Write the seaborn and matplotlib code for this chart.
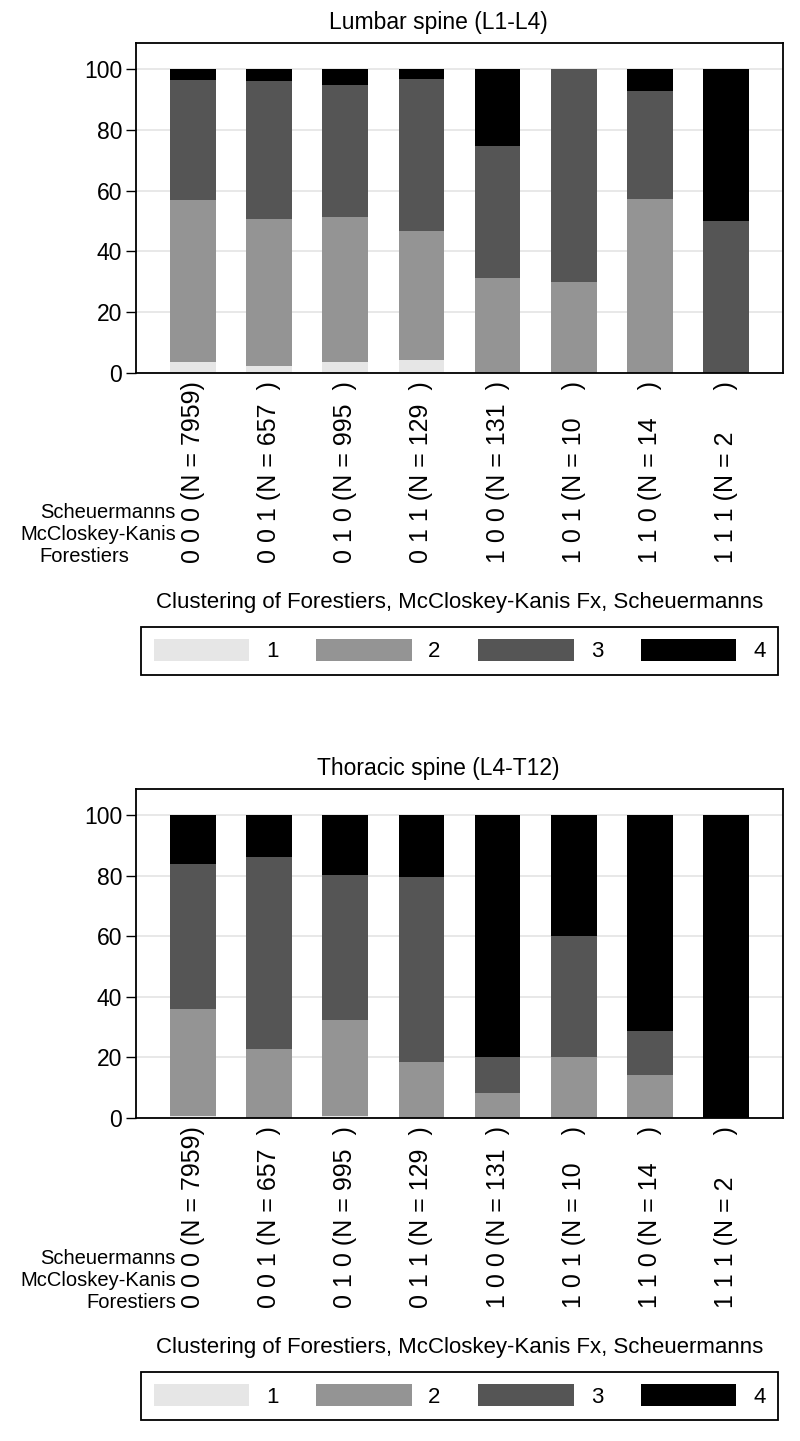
import numpy as np
import pandas as pd
import seaborn as sns
from matplotlib import pyplot as plt
from matplotlib.patches import Patch

# --- Data (percent of each group in each cluster) ---
combos = ["0 0 0", "0 0 1", "0 1 0", "0 1 1", "1 0 0", "1 0 1", "1 1 0", "1 1 1"]
n_obs = [7959, 657, 995, 129, 131, 10, 14, 2]
clusters = ["1", "2", "3", "4"]
colors = ["#e6e6e6", "#949494", "#555555", "#000000"]

lumbar_c1 = [3.4, 2.2, 3.6, 4.3, 0, 0, 0, 0]
lumbar_c2 = [53.5, 48.4, 47.7, 42.5, 31.3, 30.0, 57.1, 0]
lumbar_c3 = [39.6, 45.5, 43.6, 49.9, 43.5, 70.0, 35.7, 50.0]
lumbar_c4 = [3.5, 3.9, 5.1, 3.3, 25.2, 0, 7.2, 50.0]

thoracic_c1 = [0.7, 0, 0.7, 0, 0, 0, 0, 0]
thoracic_c2 = [35.4, 22.7, 31.8, 18.6, 8.3, 20.0, 14.3, 0]
thoracic_c3 = [47.8, 63.6, 47.7, 61.0, 12.0, 40.0, 14.3, 0]
thoracic_c4 = [16.1, 13.7, 19.8, 20.4, 79.7, 40.0, 71.4, 100.0]

row_names = ["Scheuermanns", "McCloskey-Kanis", "Forestiers"]
legend_title = "Clustering of Forestiers, McCloskey-Kanis Fx, Scheuermanns"

# pad the count so the closing bracket lines up (space = half a digit)
labels = [f"{c} (N = {n}{'  ' * (4 - len(str(n)))})" for c, n in zip(combos, n_obs)]

sns.set_style("white")
plt.rcParams['font.family'] = ['Liberation Sans', 'DejaVu Sans']
for key in ['text.color', 'axes.labelcolor', 'xtick.color', 'ytick.color']:
    plt.rcParams[key] = 'black'

W, H = 800, 1441
fig = plt.figure(figsize=(W / 100, H / 100), dpi=100)


def fx(px):
    return px / W


def fy(py):
    return 1 - py / H


def draw_panel(ax, parts):
    df = pd.DataFrame({'label': labels})
    cum = np.cumsum(np.array(parts), axis=0)
    for i in range(len(clusters)):
        df[f'cum{i}'] = cum[i]
    # stacked bars: draw the tallest cumulative first, then overlay
    for i in reversed(range(len(clusters))):
        sns.barplot(data=df, x='label', y=f'cum{i}', order=labels, color=colors[i],
                    saturation=1, width=0.6, errorbar=None, linewidth=0, ax=ax, zorder=2)
    ax.set_xlim(-0.75, 7.75)
    ax.set_ylim(0, 108.6)
    ax.set_yticks([0, 20, 40, 60, 80, 100])
    ax.yaxis.grid(True, color='#e6e6e6', linewidth=1.3)
    ax.set_axisbelow(True)
    ax.set_xlabel('')
    ax.set_ylabel('')
    ax.tick_params(axis='x', length=0, pad=6, labelsize=18, labelrotation=90)
    ax.tick_params(axis='y', length=7, width=1, direction='out', pad=3, labelsize=16.5, left=True)
    for s in ax.spines.values():
        s.set_color('black')
        s.set_linewidth(1.3)


def annotate_panel(title, title_y, ax_bottom, forest_left):
    fig.text(fx(438), fy(title_y), title, ha='center', va='center', fontsize=16.5)
    for k, name in enumerate(row_names):
        y = fy(ax_bottom + 140 + 22 * k)
        if name == "Forestiers" and forest_left:
            fig.text(fx(39), y, name, ha='left', va='center', fontsize=14.5)
        else:
            fig.text(fx(176), y, name, ha='right', va='center', fontsize=14.5)
    fig.text(fx(459.5), fy(ax_bottom + 230), legend_title, ha='center', va='center', fontsize=16)
    handles = [Patch(facecolor=c, edgecolor='none') for c in colors]
    leg = fig.legend(handles, clusters, loc='center', bbox_to_anchor=(fx(459.5), fy(ax_bottom + 278)),
                     ncol=4, fontsize=16, handlelength=4.3, handleheight=1.15, handletextpad=0.75,
                     columnspacing=1.7, borderpad=0.55, frameon=True, fancybox=False,
                     edgecolor='black', framealpha=1)
    leg.get_frame().set_linewidth(1.3)


ax1 = fig.add_axes([fx(136), fy(372.7), fx(783 - 136), (372.7 - 43) / H])
draw_panel(ax1, [lumbar_c1, lumbar_c2, lumbar_c3, lumbar_c4])
annotate_panel("Lumbar spine (L1-L4)", 22, 372.7, True)

ax2 = fig.add_axes([fx(136), fy(1118), fx(783 - 136), (1118 - 789) / H])
draw_panel(ax2, [thoracic_c1, thoracic_c2, thoracic_c3, thoracic_c4])
annotate_panel("Thoracic spine (L4-T12)", 769, 1118, False)

fig.savefig("out.png", dpi=100)
